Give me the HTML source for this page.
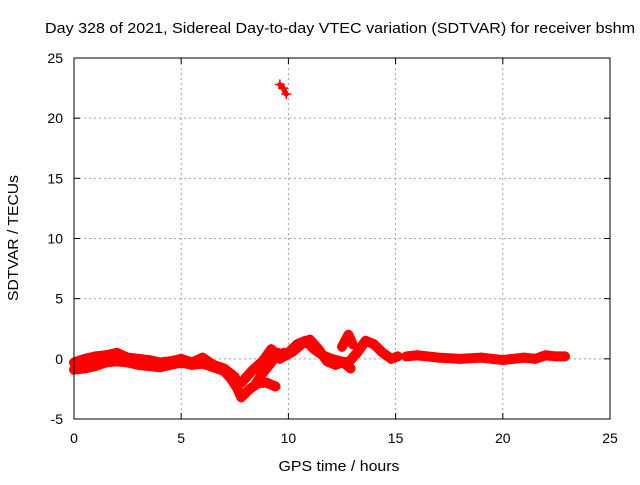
<!DOCTYPE html>
<html><head><meta charset="utf-8"><style>
body{margin:0;background:#fff}
text{font-family:"Liberation Sans",sans-serif;font-size:14px;fill:#000}
</style></head><body>
<svg id="c" width="640" height="480" xmlns="http://www.w3.org/2000/svg">
<rect width="640" height="480" fill="#fff"/>
<text x="340" y="33" text-anchor="middle" textLength="590" lengthAdjust="spacingAndGlyphs" style="font-size:15px">Day 328 of 2021, Sidereal Day-to-day VTEC variation (SDTVAR) for receiver bshm</text>
<g id="grid"></g>
<g id="ticks"></g>
<g id="data"></g>
<rect x="74" y="58" width="536" height="361" fill="none" stroke="#000"/>
<text x="339" y="471" text-anchor="middle" textLength="121" lengthAdjust="spacingAndGlyphs" style="font-size:15px">GPS time / hours</text>
<text transform="translate(18,238) rotate(-90)" text-anchor="middle" textLength="126" lengthAdjust="spacingAndGlyphs" style="font-size:15px">SDTVAR / TECUs</text>
</svg>
<script>
const xTicks=[0,5,10,15,20,25];
const yTicks=[-5,0,5,10,15,20,25];
const t1=[0,0.5,1,1.5,2,2.5,3,3.5,4,4.5,5,5.5,6,6.5,7,7.3,7.6,7.8,8.2,8.6,9.0,9.4];
const v1=[-0.9,-0.8,-0.6,-0.3,-0.2,-0.3,-0.5,-0.6,-0.7,-0.5,-0.3,-0.5,-0.4,-0.7,-1.0,-1.6,-2.4,-3.2,-2.5,-2.0,-2.0,-2.3];
const t2=[0,0.5,1,1.5,2,2.5,3,3.5,4,4.5,5,5.5,6,6.5,7,7.5];
const v2=[-0.3,0,0.2,0.3,0.5,0.1,0,-0.1,-0.3,-0.2,0,-0.3,0.1,-0.5,-0.8,-1.5];
const t3=[8.5,8.8,9.2,9.5,9.8,10.2,10.6,11,11.4,11.8,12.2,12.5];
const v3=[-2,-1.2,-0.3,0.5,0.2,0.6,1.2,1.6,0.8,-0.2,-0.5,-0.3];
const t4=[7.8,8.3,8.8,9.2,9.5,9.8];
const v4=[-2,-1,-0.2,0.8,0.3,0.5];
const t5=[9.6,10,10.4,10.8,11.2,11.6,12,12.4,12.8,13.2,13.6,14,14.4,14.8,15.1];
const v5=[0,0.5,1.2,1.5,0.8,0.3,0,-0.2,-0.3,0.5,1.5,1.2,0.5,0,0.2];
const t6=[12.5,12.8,13.0];
const v6=[1.0,2.0,1.2];
const t7=[12.7,12.9];
const v7=[-0.5,-0.8];
const t8=[15.5,16,17,18,19,20,21,21.5,22,22.5,22.9];
const v8=[0.2,0.3,0.1,0,0.1,-0.1,0.1,0,0.3,0.2,0.2];
const t9=[9.6,9.75,9.9];
const v9=[22.8,22.5,22.0];
const series=[[t1,v1],[t2,v2],[t3,v3],[t4,v4],[t5,v5],[t6,v6],[t7,v7],[t8,v8],[t9,v9]];
const X=t=>74+t*536/25, Y=v=>419-(v+5)*361/30;
const NS="http://www.w3.org/2000/svg";
function mk(tag,attrs,parent){const e=document.createElementNS(NS,tag);for(const k in attrs)e.setAttribute(k,attrs[k]);parent.appendChild(e);return e;}
const grid=document.getElementById('grid'),ticks=document.getElementById('ticks'),data=document.getElementById('data');
xTicks.forEach(t=>{
 if(t>0&&t<25){const g=mk('line',{x1:X(t),x2:X(t),y1:58,y2:419,stroke:'#a0a0a0','stroke-dasharray':'2,3'},grid);
 
 }
 mk('line',{x1:X(t),x2:X(t),y1:419,y2:413,stroke:'#000'},ticks);
 mk('line',{x1:X(t),x2:X(t),y1:58,y2:64,stroke:'#000'},ticks);
 const l=mk('text',{x:X(t),y:443,'text-anchor':'middle'},ticks);l.textContent=t;
 
 
});
yTicks.forEach(v=>{
 if(v>-5&&v<25){const g=mk('line',{x1:74,x2:610,y1:Y(v),y2:Y(v),stroke:'#a0a0a0','stroke-dasharray':'2,3'},grid);
 
 }
 mk('line',{x1:74,x2:80,y1:Y(v),y2:Y(v),stroke:'#000'},ticks);
 mk('line',{x1:604,x2:610,y1:Y(v),y2:Y(v),stroke:'#000'},ticks);
 const l=mk('text',{x:63,y:Y(v)+5,'text-anchor':'end'},ticks);l.textContent=v;
 
 
});
series.forEach(([ts,vs],i)=>{
 const pts=ts.map((t,j)=>X(t)+','+Y(vs[j])).join(' ');
 const p=mk('polyline',{points:pts,fill:'none',stroke:'#f00','stroke-width':i==8?5:10,'stroke-linejoin':'round','stroke-linecap':'round'},data);
 
 
 ts.forEach((t,j)=>{
  const x=X(t),y=Y(vs[j]);
  const m=mk('path',{d:`M${x-5},${y}h10M${x},${y-5}v10`,stroke:'#f00','stroke-width':1.5},data);
  
  
 });
});
</script>
</body></html>
